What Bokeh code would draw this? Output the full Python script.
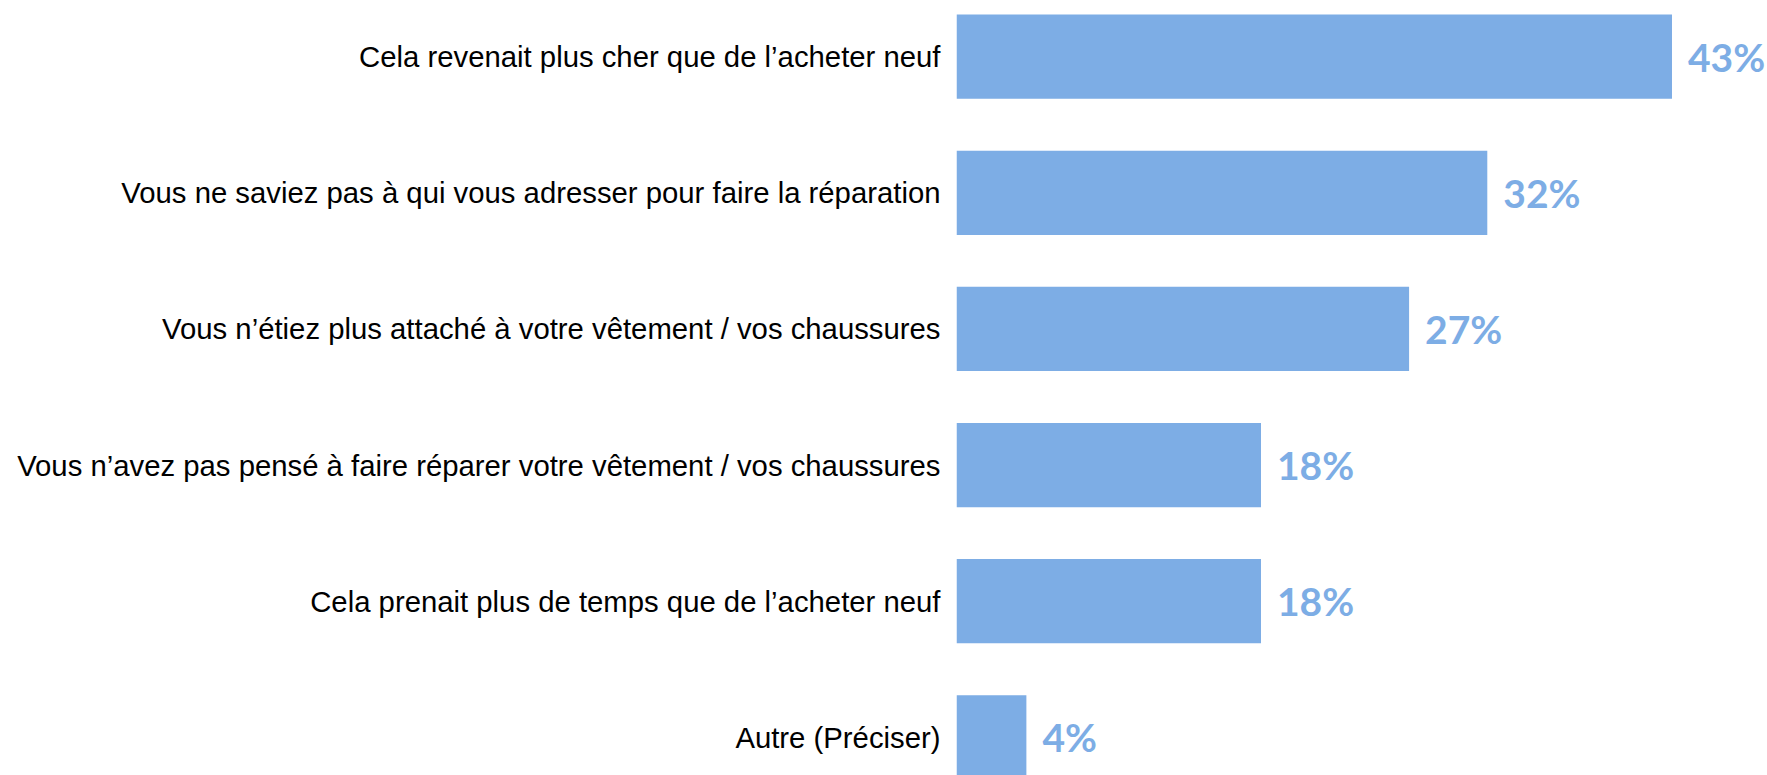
from bokeh.plotting import figure
from bokeh.models import ColumnDataSource, Range1d, FixedTicker
from bokeh.core.properties import value
from bokeh.embed import file_html
from bokeh.resources import INLINE

categories = [
    "Cela revenait plus cher que de l\u2019acheter neuf",
    "Vous ne saviez pas \u00e0 qui vous adresser pour faire la r\u00e9paration",
    "Vous n\u2019\u00e9tiez plus attach\u00e9 \u00e0 votre v\u00eatement / vos chaussures",
    "Vous n\u2019avez pas pens\u00e9 \u00e0 faire r\u00e9parer votre v\u00eatement / vos chaussures",
    "Cela prenait plus de temps que de l\u2019acheter neuf",
    "Autre (Pr\u00e9ciser)",
]
values = [43.0, 31.9, 27.2, 18.3, 18.3, 4.2]
labels = ["43%", "32%", "27%", "18%", "18%", "4%"]

n = len(categories)
ypos = [n - 1 - i for i in range(n)]

BAR = "#7DADE5"

src = ColumnDataSource(dict(y=ypos, v=values, lab=labels, cat=categories))

p = figure(width=1767, height=775, output_backend="svg", toolbar_location=None,
           x_range=Range1d(0, 48.74), y_range=Range1d(-0.281, 5.413),
           min_border_left=956, min_border_right=0, min_border_top=0, min_border_bottom=0)
p.outline_line_color = None
p.grid.visible = False
p.xaxis.visible = False

p.hbar(y="y", right="v", left=0, height=0.619, source=src, color=BAR, line_color=None)
p.text(x="v", y="y", text="lab", source=src, x_offset=16, text_align="left",
       text_baseline="middle", text_font=value("Lato"), text_font_style="bold",
       text_font_size="39px", text_color=BAR)

ya = p.yaxis[0]
ya.ticker = FixedTicker(ticks=ypos)
ya.major_label_overrides = {yy: c for yy, c in zip(ypos, categories)}
ya.axis_line_color = None
ya.major_tick_line_color = None
ya.minor_tick_line_color = None
ya.major_tick_out = 0
ya.major_tick_in = 0
ya.major_label_standoff = 16
ya.major_label_text_font = "Liberation Sans"
ya.major_label_text_font_size = "29.3px"
ya.major_label_text_color = "#000000"

open("out.html", "w").write(file_html(p, INLINE))
